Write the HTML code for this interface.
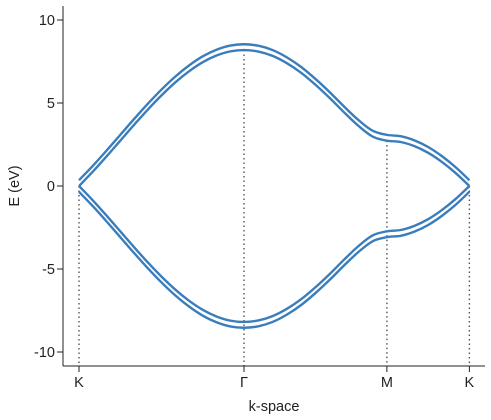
<!DOCTYPE html>
<html><head><meta charset="utf-8"><style>
html,body{margin:0;padding:0;background:#fff;}
svg{display:block;font-family:"Liberation Sans","DejaVu Sans",sans-serif;}
</style></head><body>
<svg id="chart" width="491" height="420" viewBox="0 0 491 420">
<g id="guides"></g>
<g id="bands"></g>
<g id="axes"></g>
</svg>
<script>
const kDist=[0,0.0833,0.1667,0.25,0.3333,0.4167,0.5,0.5833,0.6667,0.75,0.8333,0.9167,1,1.0866,1.1732,1.2598,1.3464,1.433,1.5196,1.6062,1.6928,1.7794,1.866,1.9493,2.0327,2.116,2.1993,2.2827,2.366];
const innerUpper=[0,0.86,1.78,2.73,3.68,4.60,5.46,6.24,6.91,7.46,7.86,8.11,8.19,8.10,7.84,7.40,6.82,6.10,5.30,4.44,3.63,2.98,2.73,2.65,2.40,2.00,1.45,0.78,0];
const outerUpper=[0.35,1.21,2.13,3.08,4.03,4.95,5.81,6.59,7.26,7.81,8.21,8.46,8.54,8.45,8.19,7.75,7.17,6.45,5.65,4.79,3.98,3.33,3.08,3.00,2.75,2.35,1.80,1.13,0.35];
const innerLower=[0,-0.86,-1.78,-2.73,-3.68,-4.60,-5.46,-6.24,-6.91,-7.46,-7.86,-8.11,-8.19,-8.10,-7.84,-7.40,-6.82,-6.10,-5.30,-4.44,-3.63,-2.98,-2.73,-2.65,-2.40,-2.00,-1.45,-0.78,0];
const outerLower=[-0.35,-1.21,-2.13,-3.08,-4.03,-4.95,-5.81,-6.59,-7.26,-7.81,-8.21,-8.46,-8.54,-8.45,-8.19,-7.75,-7.17,-6.45,-5.65,-4.79,-3.98,-3.33,-3.08,-3.00,-2.75,-2.35,-1.80,-1.13,-0.35];
const kTickPos=[0,1,1.866,2.366];
const kTickLabels=["K","Γ","M","K"];
const yTicks=[10,5,0,-5,-10];
const yTickLabels=["10","5","0","-5","-10"];

const NS="http://www.w3.org/2000/svg";
const xS=d=>79+d*165;
const yS=v=>186-v*16.6;
function mk(tag,attrs,parent,text){const e=document.createElementNS(NS,tag);for(const k in attrs)e.setAttribute(k,attrs[k]);if(text!==undefined)e.textContent=text;parent.appendChild(e);return e;}
const guides=document.getElementById('guides'),bands=document.getElementById('bands'),axes=document.getElementById('axes');

kTickPos.forEach((d,i)=>{
  let idx=0,best=1e9;kDist.forEach((k,j)=>{if(Math.abs(k-d)<best){best=Math.abs(k-d);idx=j;}});
  const l=mk('line',{x1:xS(d),x2:xS(d),y1:yS(innerUpper[idx]),y2:366,stroke:'#555','stroke-width':1.4,'stroke-dasharray':'1.5,3'},guides);
  
  
});

function smooth(pts){
  let d="M"+pts[0][0].toFixed(2)+","+pts[0][1].toFixed(2);
  for(let i=0;i<pts.length-1;i++){
    const p0=pts[Math.max(0,i-1)],p1=pts[i],p2=pts[i+1],p3=pts[Math.min(pts.length-1,i+2)];
    const c1=[p1[0]+(p2[0]-p0[0])/6,p1[1]+(p2[1]-p0[1])/6];
    const c2=[p2[0]-(p3[0]-p1[0])/6,p2[1]-(p3[1]-p1[1])/6];
    d+="C"+c1[0].toFixed(2)+","+c1[1].toFixed(2)+" "+c2[0].toFixed(2)+","+c2[1].toFixed(2)+" "+p2[0].toFixed(2)+","+p2[1].toFixed(2);
  }
  return d;
}
[["inner-upper",innerUpper],["outer-upper",outerUpper],["inner-lower",innerLower],["outer-lower",outerLower]].forEach(([n,arr])=>{
  const pts=arr.map((v,i)=>[xS(kDist[i]),yS(v)]);
  const p=mk('path',{d:smooth(pts),fill:'none',stroke:'#3a7dbd','stroke-width':2.4,'stroke-linejoin':'round'},bands);
  
  
});

mk('line',{x1:63,x2:63,y1:6,y2:366,stroke:'#222','stroke-width':1},axes);
mk('line',{x1:63,x2:485,y1:366,y2:366,stroke:'#222','stroke-width':1},axes);
yTicks.forEach((v,i)=>{
  mk('line',{x1:57,x2:63,y1:yS(v),y2:yS(v),stroke:'#222','stroke-width':1},axes);
  const t=mk('text',{x:55,y:yS(v)+5,'text-anchor':'end','font-size':14.5,fill:'#222'},axes,yTickLabels[i]);
  
  
});
kTickPos.forEach((d,i)=>{
  mk('line',{x1:xS(d),x2:xS(d),y1:366,y2:372,stroke:'#222','stroke-width':1},axes);
  const t=mk('text',{x:xS(d),y:387,'text-anchor':'middle','font-size':14.5,fill:'#222'},axes,kTickLabels[i]);
  
  
});
const xt=mk('text',{x:274,y:411,'text-anchor':'middle','font-size':14.5,fill:'#222'},axes,'k-space');


const yt=mk('text',{x:19,y:186,'text-anchor':'middle','font-size':14.5,fill:'#222',transform:'rotate(-90 19 186)'},axes,'E (eV)');


</script>
</body></html>
